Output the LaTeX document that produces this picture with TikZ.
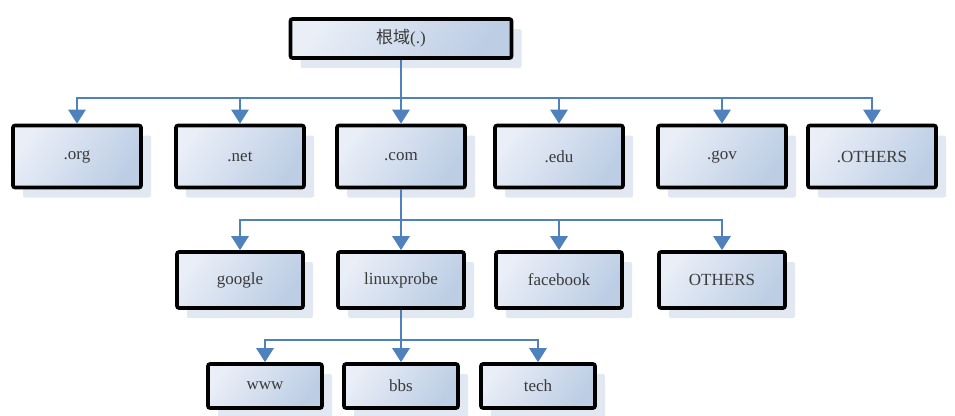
\documentclass[tikz,border=0pt]{standalone}
\usepackage{fontspec}
\setmainfont{Liberation Serif}
\newfontfamily\cjk{Noto Sans CJK SC}
\usetikzlibrary{arrows.meta,shadows}
\definecolor{linec}{HTML}{4F81BD}
\definecolor{boxlight}{HTML}{E9EEF7}
\definecolor{boxdark}{HTML}{BCCDE4}
\definecolor{shadowc}{HTML}{E1E8F2}
\definecolor{textc}{HTML}{3A3A3A}
\tikzset{
  dombox/.style={draw=black, line width=3.6pt, rounded corners=2pt,
    shading=axis, top color=boxlight, bottom color=boxdark, shading angle=55,
    drop shadow={shadow xshift=10pt, shadow yshift=-10pt, fill=shadowc, opacity=1},
    text=textc, font=\fontsize{17}{19}\selectfont, inner sep=0pt},
  rowone/.style={dombox, minimum width=128pt, minimum height=62pt},
  rowtwo/.style={dombox, minimum width=126pt, minimum height=56pt},
  rowthree/.style={dombox, minimum width=114pt, minimum height=44pt},
  busline/.style={draw=linec, line width=2.8pt},
  arr/.style={busline, -{Triangle[width=17pt,length=14pt]}},
}
\begin{document}
\begin{tikzpicture}[x=1pt,y=-1pt]
\useasboundingbox (0,0) rectangle (955,415);
% root
\node[dombox, minimum width=221pt, minimum height=39pt] (root) at (401,38.5) {\cjk 根域\rmfamily(.)};
% row 1
\node[rowone] (org)  at (77,156.5) {.org};
\node[rowone] (net)  at (240,156.5) {.net};
\node[rowone] (com)  at (401,156.5) {.com};
\node[rowone] (edu)  at (559,156.5) {.edu};
\node[rowone] (gov)  at (722,156.5) {.gov};
\node[rowone] (oth)  at (872,156.5) {.OTHERS};
% row 2
\node[rowtwo] (google) at (240,280) {google};
\node[rowtwo] (lp)     at (401,280) {linuxprobe};
\node[rowtwo] (fb)     at (559,280) {facebook};
\node[rowtwo] (oth2)   at (722,280) {OTHERS};
% row 3
\node[rowthree] (www)  at (265,386) {www};
\node[rowthree] (bbs)  at (401,386) {bbs};
\node[rowthree] (tech) at (538,386) {tech};
% buses
\coordinate (b1) at (401,98);
\coordinate (b2) at (401,220);
\coordinate (b3) at (401,340);
\draw[busline] (root.south) -- (b1);
\foreach \n in {org,net,com,edu,gov,oth} \draw[arr] (b1) -| (\n.north);
\draw[busline] (com.south) -- (b2);
\foreach \n in {google,lp,fb,oth2} \draw[arr] (b2) -| (\n.north);
\draw[busline] (lp.south) -- (b3);
\foreach \n in {www,bbs,tech} \draw[arr] (b3) -| (\n.north);
\end{tikzpicture}
\end{document}
